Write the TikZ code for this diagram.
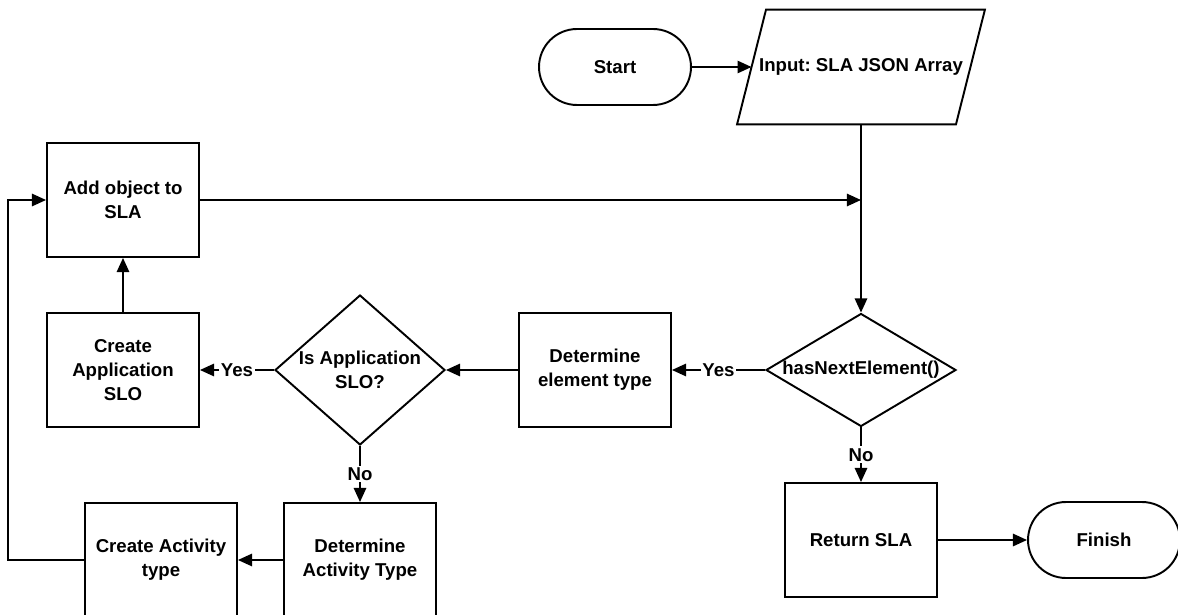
\documentclass[tikz,border=0pt]{standalone}
\usepackage{fontspec}
\setmainfont{Liberation Sans}
\frenchspacing
\usetikzlibrary{arrows.meta, shapes.geometric}

\begin{document}
\begin{tikzpicture}[x = 0.02cm, y = -0.02cm, line width = 1.1pt,
	every node/.style = {font = \bfseries\fontsize{10.6}{13.6}\selectfont, align = center},
	proc/.style = {rectangle, draw = black, minimum width = 3.04cm, minimum height = 2.28cm},
	term/.style = {rectangle, draw = black, rounded corners = 0.76cm, minimum width = 3.04cm, minimum height = 1.52cm},
	decision/.style = {diamond, draw = black, inner sep = 0pt},
	io/.style = {rectangle, inner sep = 0pt, minimum width = 4.34cm, minimum height = 2.26cm},
	flow/.style = {-{Triangle[length = 8pt, width = 7pt]}}]

	\useasboundingbox (0, 0) rectangle (1178, 615);

	\node (start)     at ( 615,  67) [term] {Start};
	\node (input)     at ( 861,  67) [io] {Input: SLA JSON Array};
	\node (addobj)    at ( 123, 200) [proc] {Add object to\\SLA};
	\node (createapp) at ( 123, 370) [proc] {Create\\Application\\SLO};
	\node (isapp)     at ( 360, 370) [decision, minimum width = 3.4cm, minimum height = 3cm, label = {center:Is Application\\SLO?}] {};
	\node (elemtype)  at ( 595, 370) [proc] {Determine\\element type};
	\node (hasnext)   at ( 861, 370) [decision, minimum width = 3.8cm, minimum height = 2.26cm, label = {center:hasNextElement()}] {};
	\node (retsla)    at ( 861, 540) [proc] {Return SLA};
	\node (finish)    at (1104, 540) [term] {Finish};
	\node (acttype)   at ( 360, 560) [proc] {Determine\\Activity Type};
	\node (createact) at ( 161, 560) [proc] {Create Activity\\type};
	\coordinate (merge) at (addobj.east -| input.south);
	\coordinate (loop)  at (8, 560);

	% slanted outline of the input node
	\draw ([xshift = -0.29cm] input.south west) -- ([xshift = 0.29cm] input.north west)
		-- ([xshift = 0.29cm] input.north east) -- ([xshift = -0.29cm] input.south east) -- cycle;

	\foreach \from/\to in {start/input, input/hasnext, createapp/addobj, elemtype/isapp, retsla/finish, acttype/createact, addobj/merge}
		\path (\from) edge [flow] (\to);
	\foreach \from/\ans/\to in {hasnext/Yes/elemtype, isapp/Yes/createapp, hasnext/No/retsla, isapp/No/acttype}
		\path (\from) edge [flow] node[fill = white, inner sep = 1pt] {\ans} (\to);

	\draw [flow] (createact.west) -- (loop) |- (addobj.west);

\end{tikzpicture}
\end{document}
